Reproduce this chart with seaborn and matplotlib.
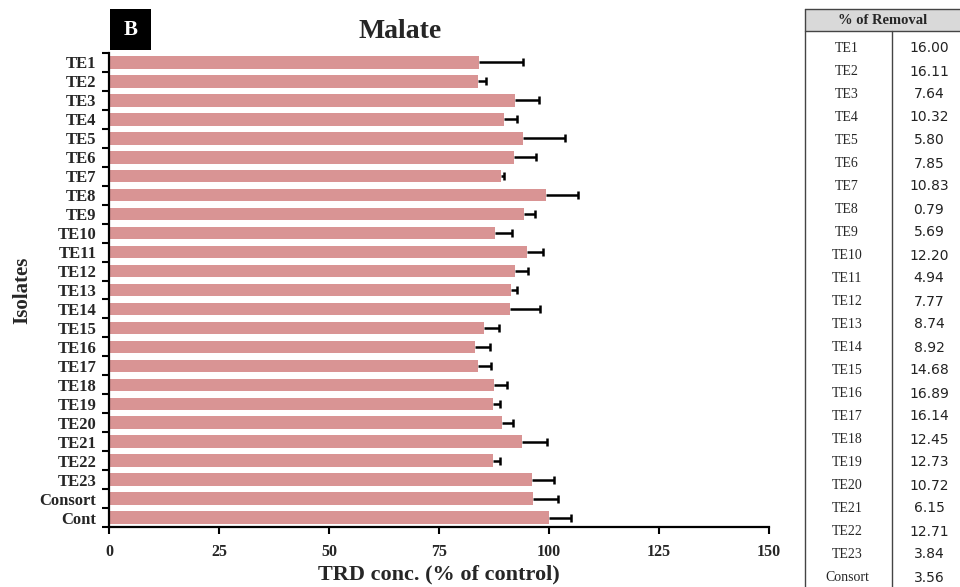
import numpy as np
import pandas as pd
import matplotlib
matplotlib.use("Agg")
import matplotlib.pyplot as plt
from matplotlib.patches import Rectangle
from matplotlib.lines import Line2D
import seaborn as sns

# Isolates and their % removal of TRD (malate medium); control has no removal
isolates = ["TE1", "TE2", "TE3", "TE4", "TE5", "TE6", "TE7", "TE8", "TE9", "TE10",
            "TE11", "TE12", "TE13", "TE14", "TE15", "TE16", "TE17", "TE18", "TE19",
            "TE20", "TE21", "TE22", "TE23", "Consort", "Cont"]
removal = [16.00, 16.11, 7.64, 10.32, 5.80, 7.85, 10.83, 0.79, 5.69, 12.20,
           4.94, 7.77, 8.74, 8.92, 14.68, 16.89, 16.14, 12.45, 12.73,
           10.72, 6.15, 12.71, 3.84, 3.56, 0.00]
# Standard deviation of the remaining concentration
errors = [10.1, 1.8, 5.3, 3.0, 9.4, 4.8, 0.5, 7.4, 2.5, 3.7,
          3.6, 2.9, 1.5, 6.9, 3.3, 3.5, 3.0, 3.0, 1.6,
          2.6, 5.7, 1.6, 5.0, 5.5, 5.1]
x_ticks = [0, 25, 50, 75, 100, 125, 150]

conc = [100.0 - r for r in removal]
df = pd.DataFrame({"isolate": isolates, "conc": conc, "err": errors})

sns.set_style("white")
plt.rcParams["font.family"] = ["Liberation Serif", "DejaVu Serif"]

W, H = 960, 587
fig = plt.figure(figsize=(W / 100, H / 100), dpi=100)
ax = fig.add_axes([109 / W, 1 - 527 / H, 660 / W, 474 / H])

sns.barplot(data=df, x="conc", y="isolate", color="#D99494", saturation=1,
            width=0.66, errorbar=None, linewidth=0, ax=ax)

# One-sided (upper) error bars with a cap only at the outer end
n = len(isolates)
ypos = np.arange(n)
upper = df["conc"] + df["err"]
ax.hlines(ypos, df["conc"], upper, colors="black", linewidth=1.8, zorder=3)
ax.scatter(upper, ypos, marker="|", s=38, color="black", linewidths=1.8, zorder=3)

ax.set_xlim(0, 150)
ax.set_ylim(n - 0.5, -0.5)
ax.set_xticks(x_ticks)
ax.set_xticklabels([str(t) for t in x_ticks], fontsize=11.5, fontweight="bold")
ax.set_yticks(ypos)
ax.set_yticklabels(isolates, fontsize=12, fontweight="bold")
ax.set_yticks(np.arange(-0.5, n, 1.0), minor=True)
ax.tick_params(axis="y", which="major", length=0, pad=9, left=True)
ax.tick_params(axis="y", which="minor", length=5, width=1.5, direction="out",
               color="black", left=True)
ax.tick_params(axis="x", which="major", length=5, width=1.5, direction="out",
               color="black", pad=7, bottom=True)

for side in ("top", "right"):
    ax.spines[side].set_visible(False)
for side in ("left", "bottom"):
    ax.spines[side].set_visible(True)
    ax.spines[side].set_color("black")
    ax.spines[side].set_linewidth(1.6)

ax.set_xlabel("TRD conc. (% of control)", fontsize=16, fontweight="bold")
ax.xaxis.set_label_coords(0.5, -0.101)
ax.xaxis.label.set_va("center")
ax.set_ylabel("Isolates", fontsize=15, fontweight="bold")
ax.yaxis.set_label_coords(-0.132, 0.5)
ax.yaxis.label.set_va("center")

# Panel letter and title
fig.patches.append(Rectangle((110 / W, 1 - 50 / H), 41 / W, 41 / H,
                             transform=fig.transFigure, facecolor="black",
                             edgecolor="none", figure=fig))
fig.text(130.5 / W, 1 - 30 / H, "B", color="white", fontsize=15, fontweight="bold",
         ha="center", va="center")
fig.text(400 / W, 1 - 31 / H, "Malate", fontsize=20, fontweight="bold",
         ha="center", va="center")

# Removal summary table
tbl_left, tbl_right, tbl_div = 805, 960, 892
hdr_top, hdr_bot = 9, 31
fig.patches.append(Rectangle((tbl_left / W, 1 - hdr_bot / H), (tbl_right - tbl_left) / W,
                             (hdr_bot - hdr_top) / H, transform=fig.transFigure,
                             facecolor="#D9D9D9", edgecolor="none", figure=fig))
for (x0, y0, x1, y1) in [(tbl_left, hdr_top, tbl_right, hdr_top),
                         (tbl_left, hdr_bot, tbl_right, hdr_bot),
                         (tbl_left, hdr_top, tbl_left, H),
                         (tbl_div, hdr_bot, tbl_div, H)]:
    fig.lines.append(Line2D([x0 / W, x1 / W], [1 - y0 / H, 1 - y1 / H],
                            transform=fig.transFigure, color="#444444", lw=1.0))
fig.text(883 / W, 1 - 20 / H, "% of Removal", fontsize=10.5, fontweight="bold",
         ha="center", va="center")
for i, (name, r) in enumerate(zip(isolates[:-1], removal[:-1])):
    y = 1 - (47 + 23.0 * i) / H
    fig.text(847 / W, y, name, fontsize=10, ha="center", va="center_baseline")
    fig.text(929 / W, y, f"{r:.2f}", fontsize=10, ha="center", va="center_baseline",
             family=["DejaVu Sans"], color="#222222")

fig.savefig("out.png", dpi=100)
